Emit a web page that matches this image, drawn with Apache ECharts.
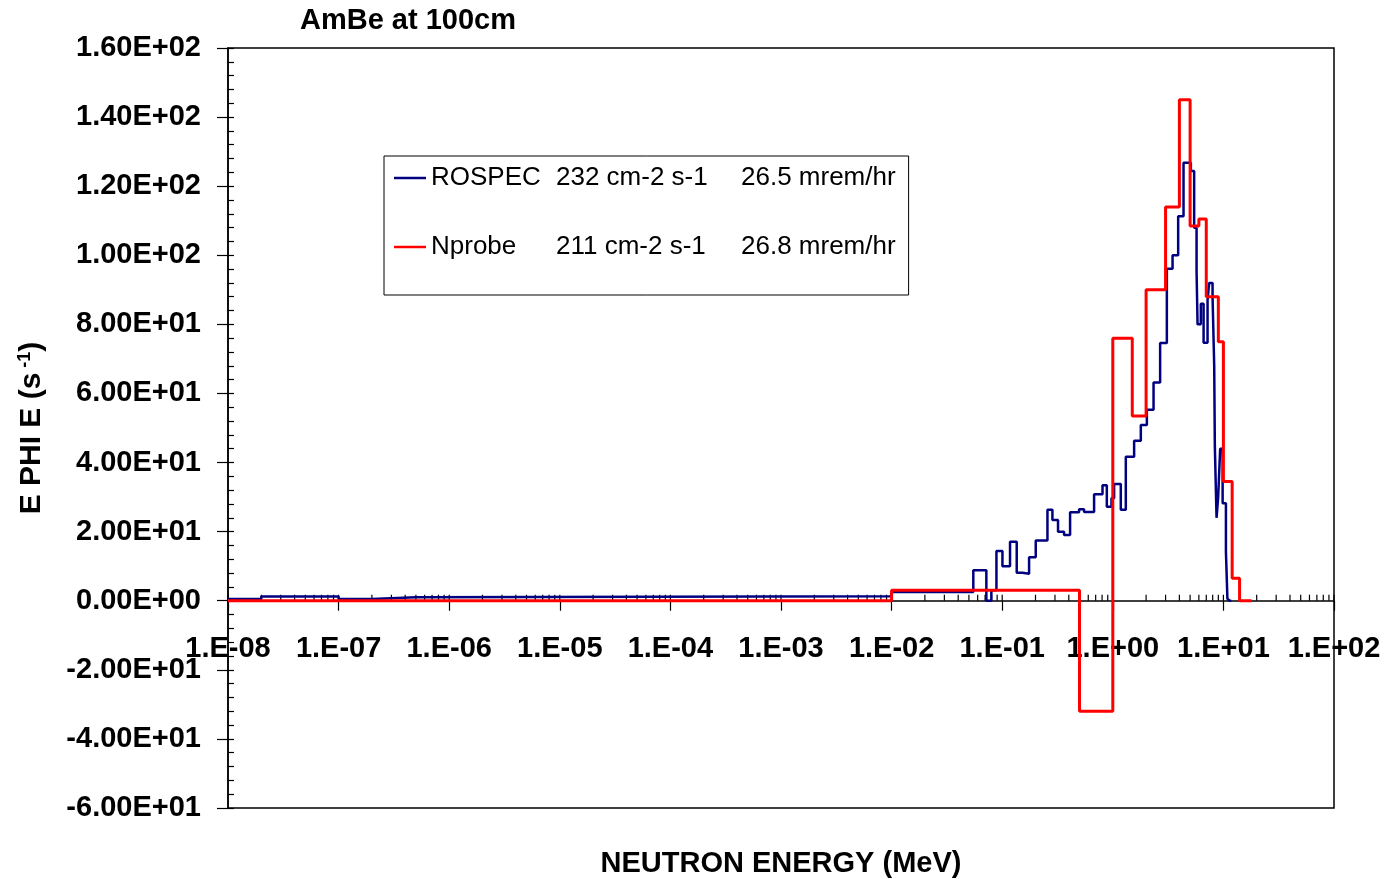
<!DOCTYPE html>
<html>
<head>
<meta charset="utf-8">
<script src="https://cdn.jsdelivr.net/npm/echarts@6/dist/echarts.min.js"></script>
<style>
html, body { margin: 0; padding: 0; background: #ffffff; }
#chart { width: 1386px; height: 879px; }
</style>
</head>
<body>
<div id="chart"></div>
<script>
// ---------- data ----------
const chartTitle = 'AmBe at 100cm';
const xAxisTitle = 'NEUTRON ENERGY (MeV)';

const seriesNames = ['ROSPEC', 'Nprobe'];
const legendFlux = ['232 cm-2 s-1', '211 cm-2 s-1'];
const legendDose = ['26.5 mrem/hr', '26.8 mrem/hr'];

// ROSPEC: bin edges (MeV) and E*PHI(E) value of each bin
const rospecEdges = [1e-8, 2e-8, 1e-7, 2e-7, 5e-7, 0.01, 0.0548, 0.0719, 0.0798, 0.0887,
  0.1005, 0.1177, 0.1353, 0.1524, 0.175, 0.201, 0.2565, 0.2845, 0.3197, 0.3625,
  0.411, 0.4955, 0.5497, 0.6774, 0.807, 0.883, 0.973, 1.028, 1.181, 1.311,
  1.559, 1.792, 2.032, 2.336, 2.679, 3.081, 3.47, 3.90, 4.36, 5.08,
  5.44, 5.72, 5.84, 6.25, 6.62, 7.19, 7.44, 7.98, 8.26, 8.37,
  8.67, 8.97, 9.35, 9.84, 10.54, 10.87, 11.33, 11.8];
const rospecValues = [0.5, 1.2, 0.5, 1.0, 1.3, 2.5, 8.8, 0, 3, 14.4,
  10, 17.1, 8.1, 7.8, 12.6, 17.4, 26.3, 23.4, 20.0, 19.0,
  25.6, 26.5, 25.7, 30.8, 33.4, 27.2, 29.7, 33.8, 26.3, 41.7,
  46.3, 50.9, 55.3, 63.2, 74.6, 96.1, 100, 111.3, 126.8, 124.4,
  108, 95.4, 80, 86, 74.7, 87, 92, 88, 67.8, 44.6,
  24, 30, 44, 28.2, 14.2, 0.6, 0];

// Nprobe: bin edges (MeV) and value of each bin
const nprobeEdges = [1e-8, 0.01, 0.5, 1.0, 1.5, 2.0, 3.0, 4.0, 5.0, 6.0, 7.0, 9.0, 10.0, 12.0, 14.0, 18.0];
const nprobeValues = [0, 3, -32, 76, 53.5, 90, 114, 145, 108.5, 110.5, 88, 75, 34.5, 6.5, 0];

// axis ranges / ticks
const xMin = 1e-8, xMax = 1e2;
const yMin = -60, yMax = 160, yInterval = 20;
const xDecadeExponents = [-8, -7, -6, -5, -4, -3, -2, -1, 0, 1, 2];
const xMinorMultipliers = [1, 2, 3, 4, 5, 6, 7, 8, 9];

// ---------- helpers ----------
function stepData(edges, values) {
  return edges.map((e, i) => [e, i < values.length ? values[i] : values[values.length - 1]]);
}
function pad2(n) { return String(n).padStart(2, '0'); }
function yFmt(v) {
  if (v === 0) return '0.00E+00';
  const e = Math.floor(Math.log10(Math.abs(v)) + 1e-9);
  const m = v / Math.pow(10, e);
  return m.toFixed(2) + 'E' + (e < 0 ? '-' : '+') + pad2(Math.abs(e));
}
function xFmt(v) {
  const e = Math.round(Math.log10(v));
  return '1.E' + (e < 0 ? '-' : '+') + pad2(Math.abs(e));
}
const upTicks = [];
xDecadeExponents.forEach(d => {
  xMinorMultipliers.forEach(m => {
    const v = m * Math.pow(10, d);
    if (v <= xMax * 1.0001) upTicks.push([v, 0]);
  });
});

const FONT = '"Liberation Sans", Arial, Helvetica, sans-serif';
const GRID_TOP = 48, GRID_BOTTOM = 71, CHART_H = 879;
const plotH = CHART_H - GRID_TOP - GRID_BOTTOM;
// distance from the grid bottom up to the y = 0 line (x axis sits on zero)
const zeroOffset = plotH * (0 - yMin) / (yMax - yMin);

const chart = echarts.init(document.getElementById('chart'), null, { renderer: 'canvas' });
const option = {
  animation: false,
  backgroundColor: '#ffffff',
  title: {
    text: chartTitle, left: 300, top: 6, padding: 0,
    textStyle: { fontFamily: FONT, fontSize: 29, fontWeight: 'bold', color: '#000' }
  },
  legend: {
    orient: 'vertical', left: 384, top: 156,
    padding: [9, 13, 35, 10], itemGap: 43, itemWidth: 32, itemHeight: 2.5,
    icon: 'rect',
    backgroundColor: '#ffffff', borderColor: '#000', borderWidth: 1,
    data: seriesNames,
    formatter: function (name) {
      const i = seriesNames.indexOf(name);
      return '{a|' + name + '}{b|' + legendFlux[i] + '}{c|' + legendDose[i] + '}';
    },
    textStyle: {
      fontFamily: FONT, fontSize: 26, color: '#000',
      rich: {
        a: { fontFamily: FONT, fontSize: 26, width: 125, color: '#000' },
        b: { fontFamily: FONT, fontSize: 26, width: 185, color: '#000' },
        c: { fontFamily: FONT, fontSize: 26, color: '#000' }
      }
    }
  },
  grid: {
    left: 228, right: 52, top: GRID_TOP, bottom: GRID_BOTTOM,
    outerBoundsMode: 'none', containLabel: false,
    show: true, borderColor: '#000', borderWidth: 1.5, backgroundColor: 'transparent'
  },
  xAxis: {
    type: 'log', logBase: 10, min: xMin, max: xMax, interval: 1, splitNumber: 10,
    position: 'bottom', offset: -zeroOffset,
    axisLine: { onZero: false, lineStyle: { color: '#000', width: 1.5 } },
    axisTick: { show: true, inside: false, length: 10, lineStyle: { color: '#000', width: 1.2 } },
    axisLabel: {
      formatter: xFmt, margin: 34, color: '#000',
      fontFamily: FONT, fontSize: 29, fontWeight: 'bold', showMinLabel: true, showMaxLabel: true
    },
    splitLine: { show: false },
    name: xAxisTitle, nameLocation: 'middle', nameGap: 249,
    nameTextStyle: { fontFamily: FONT, fontSize: 29, fontWeight: 'bold', color: '#000' }
  },
  yAxis: [
    {
      type: 'value', min: yMin, max: yMax, interval: yInterval, position: 'left',
      axisLine: { show: true, onZero: false, lineStyle: { color: '#000', width: 1.5 } },
      axisTick: { show: true, inside: false, length: 11, lineStyle: { color: '#000', width: 1.2 } },
      axisLabel: { formatter: yFmt, margin: 27, color: '#000', fontFamily: FONT, fontSize: 29, fontWeight: 'bold' },
      splitLine: { show: false },
      name: '{t|E PHI E (s}{sup| -1}{t|)}', nameLocation: 'middle', nameRotate: 90, nameGap: 180,
      nameTextStyle: {
        fontFamily: FONT, fontSize: 30, fontWeight: 'bold', color: '#000',
        rich: {
          t: { fontFamily: FONT, fontSize: 30, fontWeight: 'bold', color: '#000', lineHeight: 32 },
          sup: { fontFamily: FONT, fontSize: 18, fontWeight: 'bold', color: '#000', lineHeight: 32, verticalAlign: 'top' }
        }
      }
    },
    {
      type: 'value', min: yMin, max: yMax, interval: yInterval, position: 'left', offset: 0,
      axisLine: { show: false, onZero: false },
      axisTick: { show: true, inside: true, length: 6, lineStyle: { color: '#000', width: 1.2 } },
      minorTick: { show: true, splitNumber: 5, length: 6, lineStyle: { color: '#000', width: 1.2 } },
      axisLabel: { show: false },
      splitLine: { show: false }
    }
  ],
  series: [
    {
      type: 'custom', name: 'xticks', silent: true, z: 1,
      xAxisIndex: 0, yAxisIndex: 0,
      data: upTicks,
      clip: false,
      renderItem: function (params, api) {
        const p = api.coord([api.value(0), 0]);
        return {
          type: 'line',
          shape: { x1: p[0], y1: p[1], x2: p[0], y2: p[1] - 6 },
          style: { stroke: '#000', lineWidth: 1.2 }
        };
      }
    },
    {
      name: seriesNames[0], type: 'line', step: 'end', symbol: 'none', z: 3,
      data: stepData(rospecEdges, rospecValues),
      lineStyle: { color: '#000080', width: 2.5 }, itemStyle: { color: '#000080' }
    },
    {
      name: seriesNames[1], type: 'line', step: 'end', symbol: 'none', z: 4,
      data: stepData(nprobeEdges, nprobeValues),
      lineStyle: { color: '#ff0000', width: 3 }, itemStyle: { color: '#ff0000' }
    }
  ]
};
chart.setOption(option);
</script>
</body>
</html>
